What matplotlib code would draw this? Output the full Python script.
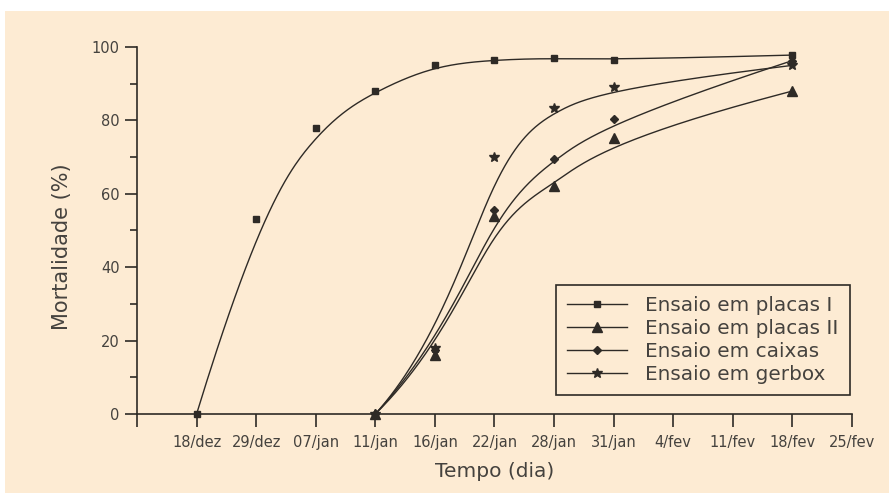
import numpy as np
import matplotlib
matplotlib.use("Agg")
import matplotlib.pyplot as plt
from matplotlib.patches import Rectangle

# rótulos do eixo x (posições 1..12, igualmente espaçadas)
datas = ['18/dez', '29/dez', '07/jan', '11/jan', '16/jan', '22/jan',
         '28/jan', '31/jan', '4/fev', '11/fev', '18/fev', '25/fev']

# dados (x = índice da data)
x_placas1 = [1, 2, 3, 4, 5, 6, 7, 8, 11]
y_placas1 = [0, 53, 78, 88, 95, 96.5, 97, 96.5, 97.8]

x_placas2 = [4, 5, 6, 7, 8, 11]
y_placas2 = [0, 16, 54, 62, 75.3, 88]

x_caixas = [4, 5, 6, 7, 8, 11]
y_caixas = [0, 17.5, 55.5, 69.5, 80.3, 96.3]

x_gerbox = [4, 5, 6, 7, 8, 11]
y_gerbox = [0, 18, 70, 83.3, 89, 95]

cor = '#2e2a26'
cor_texto = '#45423e'
fundo = '#fdebd3'

plt.rcParams['font.family'] = ['DejaVu Sans']


def bspline(xs, ys, n=300, k=3):
    # B-spline cúbica "clamped" usando os pontos como pontos de controle
    P = np.column_stack([xs, ys]).astype(float)
    m = len(P)
    knots = np.concatenate([[0.0] * k, np.linspace(0, 1, m - k + 1), [1.0] * k])
    t = np.linspace(0, 1 - 1e-9, n)

    def base(i, d):
        if d == 0:
            return ((knots[i] <= t) & (t < knots[i + 1])).astype(float)
        a = np.zeros_like(t)
        b = np.zeros_like(t)
        if knots[i + d] != knots[i]:
            a = (t - knots[i]) / (knots[i + d] - knots[i]) * base(i, d - 1)
        if knots[i + d + 1] != knots[i + 1]:
            b = (knots[i + d + 1] - t) / (knots[i + d + 1] - knots[i + 1]) * base(i + 1, d - 1)
        return a + b

    B = np.array([base(i, k) for i in range(m)])
    curva = B.T @ P
    return curva[:, 0], curva[:, 1]


fig = plt.figure(figsize=(8.89, 4.93), dpi=100)
fig.patch.set_facecolor('white')
fig.patches.append(Rectangle((5 / 889, 0), 1, 1 - 11 / 493, transform=fig.transFigure,
                             facecolor=fundo, edgecolor='none', zorder=-10))

ax = fig.add_axes([137 / 889, 1 - 414 / 493, (852 - 137) / 889, (414 - 47) / 493])
ax.set_facecolor(fundo)

series = [
    (x_placas1, y_placas1, 's', 5, 'Ensaio em placas I'),
    (x_placas2, y_placas2, '^', 6.5, 'Ensaio em placas II'),
    (x_caixas, y_caixas, 'D', 4.5, 'Ensaio em caixas'),
    (x_gerbox, y_gerbox, '*', 7, 'Ensaio em gerbox'),
]

for xs, ys, mk, ms, nome in series:
    cx, cy = bspline(xs, ys)
    ax.plot(cx, cy, color=cor, lw=1.0, clip_on=False)
    ax.plot(xs, ys, linestyle='none', marker=mk, ms=ms, color=cor, clip_on=False)
    ax.plot([], [], color=cor, lw=1.0, marker=mk, ms=ms, label=nome)

ax.set_xlim(0, 12)
ax.set_ylim(0, 100)
ax.set_xticks(range(0, 13))
ax.set_xticklabels([''] + datas)
ax.set_yticks(range(0, 101, 20))
ax.set_yticks(range(10, 100, 20), minor=True)

for s in ['top', 'right']:
    ax.spines[s].set_visible(False)
for s in ['left', 'bottom']:
    ax.spines[s].set_color(cor)
    ax.spines[s].set_linewidth(1.2)

ax.tick_params(axis='both', which='major', direction='out', length=9, width=1.2,
               color=cor, labelcolor=cor_texto, labelsize=10.5)
ax.tick_params(axis='y', which='minor', direction='out', length=5, width=1.2, color=cor)
ax.tick_params(axis='x', pad=6)

ax.set_xlabel('Tempo (dia)', fontsize=14.5, color=cor_texto, labelpad=9)
ax.set_ylabel('Mortalidade (%)', fontsize=15, color=cor_texto)
ax.yaxis.set_label_coords(-0.091, 0.455)

leg = ax.legend(loc='lower right', bbox_to_anchor=(0.997, 0.052), borderaxespad=0,
                fontsize=14.4, frameon=True, fancybox=False, facecolor=fundo,
                edgecolor=cor, framealpha=1, handlelength=3.0, labelspacing=0.2,
                borderpad=0.55, handletextpad=0.9)
leg.get_frame().set_linewidth(1.2)
for txt in leg.get_texts():
    txt.set_color(cor_texto)

fig.savefig('out.png', dpi=100, facecolor=fig.get_facecolor())
